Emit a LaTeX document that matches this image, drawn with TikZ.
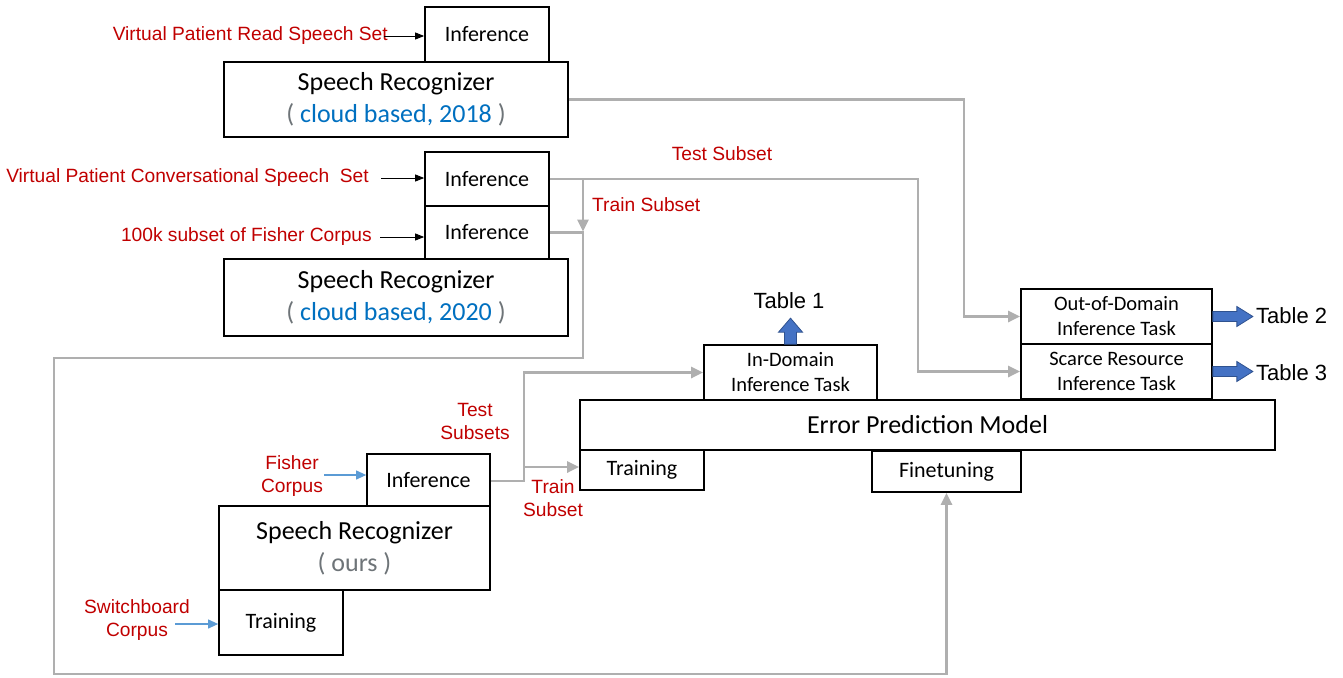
\documentclass[tikz,border=0pt]{standalone}
\usepackage{fontspec}
\setmainfont{Carlito}
\newfontfamily\arifont{Liberation Sans}
\usetikzlibrary{arrows.meta,calc}
\definecolor{lred}{RGB}{192,0,0}
\definecolor{tblue}{RGB}{0,112,192}
\definecolor{pgray}{RGB}{110,116,120}
\definecolor{lgray}{RGB}{175,175,175}
\definecolor{bfill}{RGB}{68,114,196}
\definecolor{bdraw}{RGB}{47,82,143}
\definecolor{sblue}{RGB}{91,155,213}
\begin{document}
\begin{tikzpicture}[x=1pt,y=-1pt,
  box/.style={draw=black, line width=1.7pt, inner sep=0pt, align=center, fill=white},
  fnormal/.style={font=\fontsize{22}{26}\selectfont},
  fbig/.style={font=\fontsize{26}{32}\selectfont},
  ftask/.style={font=\fontsize{20.5}{25}\selectfont},
  lab/.style={text=lred, align=center, inner sep=0pt, font=\arifont\fontsize{19.2}{23}\selectfont},
  tlab/.style={inner sep=0pt, font=\arifont\fontsize{22}{26}\selectfont},
  conn/.style={draw=lgray, line width=2.7pt},
  garrow/.style={conn, -{Triangle[length=12pt,width=11pt]}},
  blk/.style={draw=black, line width=0.9pt, -{Triangle[length=9pt,width=7pt]}},
  sbl/.style={draw=sblue, line width=1.1pt, -{Triangle[length=10pt,width=9pt]}},
  blockarrow/.style={fill=bfill, draw=bdraw, line width=0.8pt}
]
\useasboundingbox (0,0) rectangle (1343,677);

% ---- top recognizer (2018)
\node[box, fnormal, minimum width=124pt, minimum height=55pt] (inf1) at (487,34.5) {Inference};
\node[box, fbig, minimum width=344pt, minimum height=75pt] (sr1) at (396,99.5)
  {Speech Recognizer\\{\color{pgray}(} {\color{tblue}cloud based, 2018} {\color{pgray})}};

% ---- middle recognizer (2020)
\node[box, fnormal, minimum width=124pt, minimum height=54pt] (inf2) at (487,179) {Inference};
\node[box, fnormal, minimum width=124pt, minimum height=53pt] (inf3) at (487,232.5) {Inference};
\node[box, fbig, minimum width=344pt, minimum height=77pt] (sr2) at (396,297.5)
  {Speech Recognizer\\{\color{pgray}(} {\color{tblue}cloud based, 2020} {\color{pgray})}};

% ---- our recognizer
\node[box, fnormal, minimum width=123pt, minimum height=52pt] (inf4) at (428.5,480) {Inference};
\node[box, fbig, minimum width=271pt, minimum height=84pt] (sr3) at (354.5,548)
  {Speech Recognizer\\{\color{pgray}( ours )}};
\node[box, fnormal, minimum width=124pt, minimum height=65pt] (trn1) at (281,622.5) {Training};

% ---- error prediction model
\node[box, fbig, minimum width=695pt, minimum height=50pt] (epm) at (927.5,425) {Error Prediction Model};
\node[box, fnormal, minimum width=124pt, minimum height=40pt] (trn2) at (642,470) {Training};
\node[box, fnormal, minimum width=149pt, minimum height=41pt] (fin) at (946.5,471.5) {Finetuning};
\node[box, ftask, minimum width=173pt, minimum height=55pt] (ind) at (790.5,372.5) {In-Domain\\Inference Task};
\node[box, ftask, minimum width=191pt, minimum height=55pt] (ood) at (1116.5,316.5) {Out-of-Domain\\Inference Task};
\node[box, ftask, minimum width=191pt, minimum height=55pt] (scr) at (1116.5,371.5) {Scarce Resource\\Inference Task};

% ---- input labels
\node[lab, anchor=east] (l1) at (388,36) {Virtual Patient Read Speech Set};
\node[lab, anchor=east] (l2) at (369,178) {Virtual Patient Conversational Speech\ \ Set};
\node[lab, anchor=east] (l3) at (372,237) {100k subset of Fisher Corpus};
\node[lab] (l4) at (292,476) {Fisher\\Corpus};
\node[lab] (l5) at (137,620) {Switchboard\\Corpus};

\draw[blk] ($(l1.east)+(-4,0)$) -- (inf1.west |- l1.east);
\draw[blk] ($(l2.east)+(12,0)$) -- (inf2.west |- l2.east);
\draw[blk] ($(l3.east)+(8,0)$) -- (inf3.west |- l3.east);
\coordinate (fa) at (324,475);
\coordinate (sa) at (175,624);
\draw[sbl] (fa) -- (inf4.west |- fa);
\draw[sbl] (sa) -- (trn1.west |- sa);

% ---- data-flow labels
\node[lab] (ts) at (722,154) {Test Subset};
\node[lab, anchor=west] (tr) at (592,205) {Train Subset};
\node[lab] (ts2) at (475,421) {Test\\Subsets};
\node[lab] (tr2) at (553,498) {Train\\Subset};

% ---- gray connectors
\coordinate (x1) at (964,0);
\coordinate (x2) at (918,0);
\coordinate (x3) at (583,0);
\coordinate (x4) at (524,0);
\coordinate (yl) at (0,358);
\coordinate (xl) at (54,0);
\coordinate (yb) at (0,674);
\coordinate (ya) at (0,467);

\draw[garrow] (sr1.east) -| (x1 |- ood.west) -- (ood.west);
\draw[garrow] (inf2.east) -| (x2 |- scr.west) -- (scr.west);
\draw[garrow] (x3 |- inf2.east) -- ($(x3 |- inf3.east)+(0,-1)$);
\draw[garrow] (inf3.east) -| (x3 |- yl) -| (xl |- yb) -| (fin.south);
\draw[garrow] ($(inf4.east)+(0,1)$) -| (x4 |- ind.west) -- (ind.west);
\draw[garrow] (x4 |- ya) -- (trn2.west |- ya);

% ---- result block arrows
\coordinate (a1) at (ind.north);
\coordinate (a2) at (ood.east);
\coordinate (a3) at (scr.east);
\filldraw[blockarrow] ($(a1)+(-6,0)$) -- ++(0,-12) -- ++(-6,0) -- ++(12,-14) -- ++(12,14) -- ++(-6,0) -- ++(0,12) -- cycle;
\filldraw[blockarrow] ($(a2)+(0,-5)$) -- ++(24,0) -- ++(0,-5) -- ++(16,10) -- ++(-16,10) -- ++(0,-5) -- ++(-24,0) -- cycle;
\filldraw[blockarrow] ($(a3)+(0,-5)$) -- ++(24,0) -- ++(0,-5) -- ++(16,10) -- ++(-16,10) -- ++(0,-5) -- ++(-24,0) -- cycle;

\node[tlab] (t1) at (789,301) {Table 1};
\node[tlab, anchor=west] (t2) at (1256,316) {Table 2};
\node[tlab, anchor=west] (t3) at (1256,373) {Table 3};
\end{tikzpicture}
\end{document}
